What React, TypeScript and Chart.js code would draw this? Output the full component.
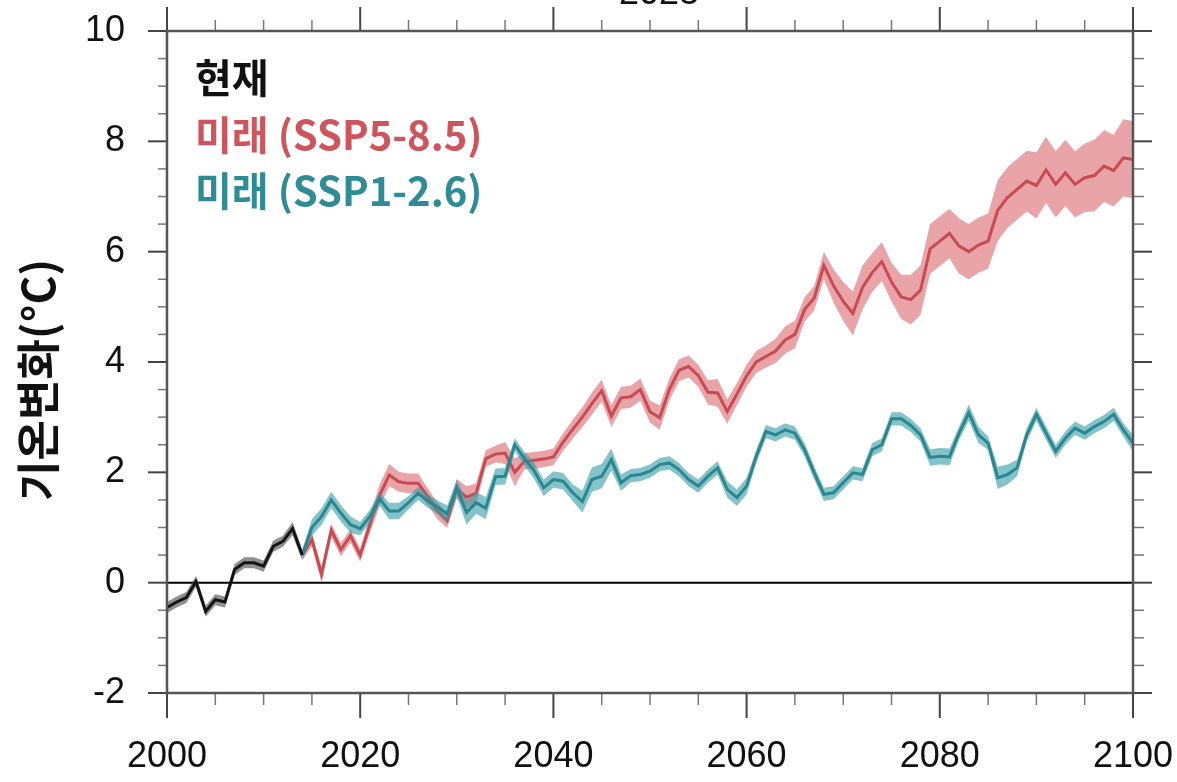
import React, { useEffect, useRef } from "react";
import { Chart, registerables } from "chart.js";

Chart.register(...registerables);

// ---------- data ----------
const presentStart = 2000;
const futureStart = 2014;

const presentMean = [-0.45, -0.35, -0.27, 0.02, -0.52, -0.31, -0.35, 0.24, 0.36, 0.36, 0.3, 0.66, 0.75, 0.98, 0.5];
const presentSpread = [0.1, 0.1, 0.1, 0.1, 0.1, 0.1, 0.1, 0.1, 0.1, 0.1, 0.1, 0.1, 0.1, 0.12, 0.1];

const ssp585Mean = [
  0.5, 0.78, 0.15, 0.95, 0.6, 0.85, 0.5, 1.05, 1.58, 1.95,
  1.83, 1.8, 1.8, 1.56, 1.3, 1.12, 1.7, 1.55, 1.62, 2.25,
  2.33, 2.35, 2.0, 2.2, 2.22, 2.24, 2.28, 2.55, 2.78, 3.0,
  3.25, 3.48, 3.02, 3.35, 3.37, 3.5, 3.1, 2.99, 3.5, 3.85,
  3.92, 3.75, 3.45, 3.44, 3.1, 3.42, 3.75, 4.0, 4.1, 4.2,
  4.4, 4.5, 4.95, 5.16, 5.75, 5.38, 5.1, 4.88, 5.35, 5.62,
  5.82, 5.45, 5.18, 5.13, 5.3, 6.05, 6.19, 6.33, 6.1, 6.0,
  6.12, 6.19, 6.75, 6.98, 7.13, 7.28, 7.2, 7.48, 7.22, 7.43,
  7.22, 7.34, 7.38, 7.55, 7.47, 7.7, 7.67,
];
const ssp585Spread = [
  0.1, 0.12, 0.15, 0.12, 0.12, 0.12, 0.12, 0.15, 0.2, 0.2,
  0.18, 0.18, 0.18, 0.15, 0.15, 0.13, 0.18, 0.2, 0.18, 0.15,
  0.15, 0.2, 0.25, 0.15, 0.15, 0.15, 0.15, 0.16, 0.17, 0.18,
  0.2, 0.2, 0.2, 0.2, 0.2, 0.2, 0.2, 0.22, 0.2, 0.2,
  0.2, 0.2, 0.22, 0.25, 0.22, 0.2, 0.2, 0.2, 0.2, 0.22,
  0.25, 0.25, 0.22, 0.22, 0.25, 0.3, 0.35, 0.4, 0.4, 0.35,
  0.35, 0.35, 0.4, 0.45, 0.45, 0.45, 0.45, 0.45, 0.5, 0.5,
  0.5, 0.5, 0.55, 0.55, 0.55, 0.55, 0.6, 0.6, 0.6, 0.6,
  0.6, 0.62, 0.65, 0.65, 0.65, 0.7, 0.7,
];

const ssp126Mean = [
  0.5, 1.0, 1.2, 1.5, 1.26, 1.05, 0.98, 1.2, 1.52, 1.3,
  1.3, 1.45, 1.62, 1.48, 1.37, 1.25, 1.72, 1.27, 1.45, 1.35,
  1.92, 1.93, 2.5, 2.25, 2.03, 1.72, 1.87, 1.84, 1.63, 1.47,
  1.87, 1.93, 2.23, 1.81, 1.94, 1.96, 2.02, 2.14, 2.17, 2.05,
  1.87, 1.75, 1.93, 2.08, 1.69, 1.54, 1.75, 2.29, 2.74, 2.68,
  2.77, 2.71, 2.41, 1.99, 1.6, 1.63, 1.81, 1.99, 1.96, 2.41,
  2.5, 2.97, 2.97, 2.85, 2.68, 2.27, 2.29, 2.28, 2.71, 3.08,
  2.68, 2.53, 1.9, 1.96, 2.08, 2.68, 3.05, 2.71, 2.38, 2.62,
  2.8, 2.71, 2.83, 2.92, 3.05, 2.77, 2.53,
];
const ssp126Spread = [
  0.1, 0.15, 0.15, 0.15, 0.15, 0.15, 0.12, 0.12, 0.12, 0.15,
  0.15, 0.12, 0.12, 0.12, 0.12, 0.15, 0.15, 0.22, 0.2, 0.2,
  0.15, 0.15, 0.12, 0.12, 0.15, 0.15, 0.15, 0.15, 0.15, 0.2,
  0.22, 0.22, 0.2, 0.15, 0.12, 0.12, 0.12, 0.12, 0.12, 0.12,
  0.12, 0.12, 0.12, 0.12, 0.15, 0.15, 0.15, 0.12, 0.12, 0.12,
  0.12, 0.12, 0.12, 0.12, 0.12, 0.12, 0.12, 0.12, 0.12, 0.12,
  0.12, 0.12, 0.12, 0.12, 0.12, 0.15, 0.15, 0.15, 0.12, 0.15,
  0.15, 0.12, 0.2, 0.18, 0.15, 0.12, 0.12, 0.12, 0.12, 0.12,
  0.12, 0.12, 0.12, 0.12, 0.12, 0.12, 0.15,
];

const legendLabels = ["현재", "미래 (SSP5-8.5)", "미래 (SSP1-2.6)"];
const yAxisTitle = "기온변화(°C)";
const topTitle = "2023";
const xMin = 2000, xMax = 2100, xStep = 20, xMinorStep = 5;
const yMin = -2, yMax = 10, yStep = 2, yMinorStep = 0.5;

// ---------- helpers ----------
const pts = (start: number, vals: number[], off: number[] | null, sign: number) =>
  vals.map((v, i) => ({ x: start + i, y: off ? v + sign * off[i] : v }));

const COLORS = {
  black: { line: "#141414", band: "rgba(70,70,70,0.6)" },
  red: { line: "#c94a52", band: "rgba(218,108,112,0.62)" },
  teal: { line: "#2a8690", band: "rgba(55,158,168,0.62)" },
};

function bandSets(start: number, mean: number[], spread: number[], c: { line: string; band: string }, baseOrder: number) {
  return [
    { data: pts(start, mean, spread, -1), borderWidth: 0, pointRadius: 0, fill: false, order: baseOrder + 2, backgroundColor: c.band, borderColor: "transparent" },
    { data: pts(start, mean, spread, 1), borderWidth: 0, pointRadius: 0, fill: "-1", order: baseOrder + 1, backgroundColor: c.band, borderColor: "transparent" },
    { data: pts(start, mean, null, 0), borderWidth: 3, pointRadius: 0, fill: false, order: baseOrder, borderColor: c.line, backgroundColor: c.line },
  ];
}

const zeroPad = (s: any) => {
  s.paddingTop = 0;
  s.paddingBottom = 0;
  s.paddingLeft = 0;
  s.paddingRight = 0;
};

const decorPlugin = {
  id: "decor",
  beforeDatasetsDraw(chart: any) {
    const { ctx, chartArea: ca, scales } = chart;
    const y0 = scales.y.getPixelForValue(0);
    ctx.save();
    ctx.strokeStyle = "#000";
    ctx.lineWidth = 2;
    ctx.beginPath();
    ctx.moveTo(ca.left, y0);
    ctx.lineTo(ca.right, y0);
    ctx.stroke();
    ctx.restore();
  },
  afterDraw(chart: any) {
    const { ctx, chartArea: ca, scales } = chart;
    const xs = scales.x, ys = scales.y;
    ctx.save();
    const line = (x1: number, y1: number, x2: number, y2: number) => {
      ctx.beginPath();
      ctx.moveTo(x1, y1);
      ctx.lineTo(x2, y2);
      ctx.stroke();
    };
    for (let v = xMin; v <= xMax + 1e-6; v += xMinorStep) {
      const major = Math.abs((v - xMin) % xStep) < 1e-6;
      const px = xs.getPixelForValue(v);
      ctx.strokeStyle = major ? "#444" : "#777";
      ctx.lineWidth = major ? 2 : 1.5;
      line(px, ca.bottom, px, ca.bottom + (major ? 25 : 12));
      line(px, ca.top, px, ca.top - (major ? 24 : 11));
    }
    for (let v = yMin; v <= yMax + 1e-6; v += yMinorStep) {
      const major = Math.abs((v - yMin) % yStep) < 1e-6;
      const py = ys.getPixelForValue(v);
      ctx.strokeStyle = major ? "#444" : "#777";
      ctx.lineWidth = major ? 2 : 1.5;
      line(ca.left, py, ca.left - (major ? 19 : 9), py);
      line(ca.right, py, ca.right + (major ? 19 : 11), py);
    }
    ctx.strokeStyle = "#555";
    ctx.lineWidth = 2.5;
    ctx.strokeRect(ca.left, ca.top, ca.right - ca.left, ca.bottom - ca.top);

    ctx.font = "bold 40px 'Noto Sans CJK KR', sans-serif";
    ctx.textAlign = "left";
    ctx.textBaseline = "alphabetic";
    const lc = ["#111111", "#cf545b", "#2e8c96"];
    const lb = [93, 150, 206];
    legendLabels.forEach((t, i) => {
      ctx.fillStyle = lc[i];
      ctx.fillText(t, 195, lb[i]);
    });

    ctx.save();
    ctx.translate(38, 380);
    ctx.rotate(-Math.PI / 2);
    ctx.font = "bold 44px 'Noto Sans CJK KR', sans-serif";
    ctx.fillStyle = "#111";
    ctx.textAlign = "center";
    ctx.textBaseline = "middle";
    ctx.fillText(yAxisTitle, 0, 0);
    ctx.restore();

    ctx.font = "36px 'Liberation Sans', Arial, sans-serif";
    ctx.fillStyle = "#111";
    ctx.textAlign = "center";
    ctx.textBaseline = "alphabetic";
    ctx.fillText(topTitle, 659, 4);
    ctx.restore();
  },
};

export default function App() {
  const ref = useRef<HTMLCanvasElement>(null);
  useEffect(() => {
    document.body.style.margin = "0";
    const canvas = ref.current!;
    const chart = new Chart(canvas, {
      type: "line",
      data: {
        datasets: [
          ...bandSets(futureStart, ssp585Mean, ssp585Spread, COLORS.red, 7),
          ...bandSets(futureStart, ssp126Mean, ssp126Spread, COLORS.teal, 4),
          ...bandSets(presentStart, presentMean, presentSpread, COLORS.black, 1),
        ] as any,
      },
      options: {
        animation: false,
        responsive: false,
        events: [],
        layout: { padding: { top: 31, right: 44, left: 0, bottom: 0 } },
        plugins: { legend: { display: false }, tooltip: { enabled: false }, title: { display: false } },
        elements: { line: { tension: 0 } },
        scales: {
          x: {
            type: "linear",
            min: xMin,
            max: xMax,
            border: { display: false },
            grid: { display: false, drawTicks: false },
            ticks: {
              stepSize: xStep,
              color: "#111",
              padding: 42,
              maxRotation: 0,
              font: { family: "'Liberation Sans', Arial, sans-serif", size: 36 },
              callback: (v: any) => String(v),
            },
            afterFit: (s: any) => { s.height = 89; zeroPad(s); },
          },
          y: {
            type: "linear",
            min: yMin,
            max: yMax,
            border: { display: false },
            grid: { display: false, drawTicks: false },
            ticks: {
              stepSize: yStep,
              color: "#111",
              padding: 42,
              font: { family: "'Liberation Sans', Arial, sans-serif", size: 36 },
            },
            afterFit: (s: any) => { s.width = 167; zeroPad(s); },
          },
        },
      },
      plugins: [decorPlugin],
    });
    return () => chart.destroy();
  }, []);
  return <canvas ref={ref} width={1177} height={782} style={{ display: "block" }} />;
}
